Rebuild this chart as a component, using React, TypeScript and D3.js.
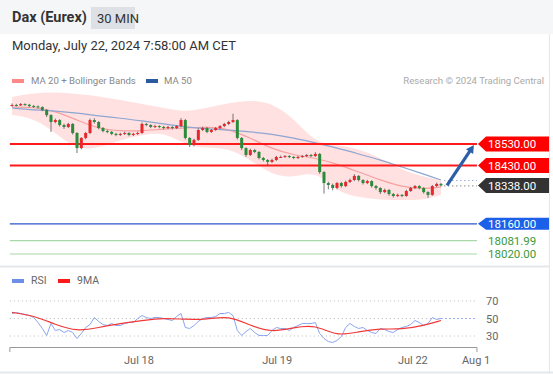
import React from 'react';
import * as d3 from 'd3';

const W = 553;
const H = 375;

// 30 min candles, Jul 17 -> Jul 22 morning
const closes = [
  18711, 18709, 18715, 18712, 18706, 18704, 18701, 18688, 18664, 18632,
  18641, 18618, 18609, 18623, 18581, 18511, 18558, 18581, 18641, 18632,
  18604, 18590, 18586, 18577, 18572, 18577, 18581, 18572, 18577, 18581,
  18623, 18618, 18609, 18613, 18609, 18604, 18609, 18604, 18613, 18641,
  18558, 18525, 18549, 18595, 18604, 18586, 18595, 18604, 18613, 18623,
  18632, 18641, 18558, 18511, 18479, 18502, 18493, 18465, 18456, 18447,
  18456, 18470, 18470, 18474, 18470, 18465, 18470, 18474, 18479, 18474,
  18484, 18400, 18349, 18340, 18326, 18349, 18335, 18354, 18363, 18382,
  18363, 18349, 18358, 18335, 18326, 18307, 18317, 18298, 18289, 18294,
  18289, 18312, 18326, 18335, 18326, 18307, 18294, 18335, 18345, 18338,
];
const opens = [18708, ...closes.slice(0, -1)];
const highs = [
  18718, 18716, 18720, 18719, 18716, 18711, 18709, 18705, 18692, 18668,
  18648, 18645, 18624, 18628, 18627, 18585, 18562, 18586, 18648, 18650,
  18636, 18609, 18596, 18591, 18582, 18582, 18587, 18585, 18582, 18587,
  18630, 18628, 18622, 18619, 18617, 18614, 18614, 18613, 18618, 18650,
  18646, 18562, 18555, 18602, 18610, 18609, 18600, 18609, 18618, 18628,
  18638, 18670, 18645, 18562, 18515, 18508, 18507, 18497, 18470, 18460,
  18462, 18475, 18476, 18479, 18478, 18474, 18475, 18479, 18484, 18484,
  18492, 18488, 18404, 18355, 18346, 18354, 18354, 18360, 18370, 18390,
  18386, 18367, 18364, 18362, 18340, 18330, 18323, 18321, 18303, 18300,
  18298, 18318, 18331, 18340, 18339, 18330, 18311, 18340, 18351, 18350,
];
const lows = [
  18703, 18704, 18706, 18707, 18700, 18698, 18695, 18682, 18655, 18586,
  18626, 18611, 18600, 18604, 18574, 18488, 18505, 18552, 18576, 18625,
  18598, 18584, 18580, 18571, 18566, 18567, 18572, 18566, 18567, 18572,
  18577, 18612, 18603, 18604, 18603, 18598, 18599, 18598, 18599, 18608,
  18551, 18516, 18519, 18544, 18590, 18580, 18581, 18590, 18599, 18608,
  18618, 18627, 18551, 18502, 18470, 18474, 18487, 18459, 18449, 18428,
  18442, 18451, 18465, 18466, 18465, 18460, 18460, 18466, 18469, 18469,
  18470, 18392, 18300, 18320, 18315, 18320, 18328, 18330, 18349, 18358,
  18356, 18342, 18344, 18328, 18318, 18298, 18302, 18290, 18282, 18284,
  18283, 18285, 18308, 18321, 18320, 18300, 18280, 18290, 18330, 18333,
];

// indicator readings, every 5th bar
const maIdx = [0, 5, 10, 15, 20, 25, 30, 35, 40, 45, 50, 55, 60, 65, 70, 75, 80, 85, 90, 95, 99];
const ma50 = [18697, 18688, 18683, 18674, 18660, 18650, 18637, 18623, 18609, 18600, 18595, 18586, 18576, 18558, 18535, 18511, 18484, 18456, 18423, 18391, 18363];
const ma20 = [18701, 18701, 18683, 18641, 18600, 18590, 18590, 18600, 18604, 18609, 18600, 18558, 18507, 18479, 18465, 18437, 18400, 18363, 18331, 18321, 18331];
const bbUpper = [18748, 18766, 18771, 18762, 18752, 18734, 18715, 18697, 18678, 18697, 18720, 18734, 18720, 18650, 18535, 18525, 18507, 18465, 18409, 18377, 18363];
const bbLower = [18664, 18650, 18581, 18502, 18511, 18549, 18572, 18586, 18525, 18511, 18511, 18456, 18386, 18372, 18409, 18307, 18284, 18270, 18270, 18270, 18294];

const rsi = [
  55.7, 56.9, 55.7, 54.6, 53.4, 51.1, 45.4, 38.6, 30.6, 44.3,
  36.3, 37.4, 34, 36.3, 34, 27.1, 32.9, 39.7, 43.1, 51.1,
  46.6, 43.1, 42, 44.3, 42, 42, 44.3, 45.4, 45.4, 50,
  53.4, 51.1, 50, 51.1, 51.1, 50, 48.9, 47.7, 52.3, 55.7,
  39.7, 38.6, 42, 46.6, 50, 51.1, 51.1, 52.3, 55.7, 55.7,
  56.9, 53.4, 36.3, 30.6, 35.1, 38.6, 34, 30.6, 30.6, 30.6,
  36.3, 39.7, 38.6, 38.6, 36.3, 39.7, 42, 44.3, 44.3, 44.3,
  45.4, 32.9, 27.1, 23.7, 22.6, 24.9, 29.4, 39.7, 44.3, 40.9,
  38.6, 39.7, 36.3, 34, 32.9, 38.6, 37.4, 35.1, 34, 37.4,
  39.7, 40.9, 43.1, 47.7, 45.4, 42, 44.3, 51.1, 48.9, 50,
];
const rsiMa = [56.9, 53.4, 43.1, 35.1, 39.7, 44.3, 47.7, 50.6, 48.9, 48.9, 53.4, 42, 34, 39.7, 43.1, 29.4, 35.1, 38.6, 37.4, 42, 47.7];
const rsiTicks = [70, 50, 30];

const xTickLabels = ['Jul 18', 'Jul 19', 'Jul 22', 'Aug 1'];
// bar positions of the date ticks
const xTickIdx = [29.3, 61.2, 92.5, 107.1];

const lastPrice = 18338;
const resistances = [18530, 18430];
const support = 18160;
const greenLevels = [18081.99, 18020];
const target = 18530;

const FONT = 'Roboto, Arial, sans-serif';

export default function App() {
  const x = d3.scaleLinear().domain([0, 99]).range([12, 441]);
  const xStart = -0.5;
  const xEnd = 107.3;
  const y = d3.scaleLinear().domain([18020, 18530]).range([254, 144]);
  const yR = d3.scaleLinear().domain([30, 70]).range([336, 301]);

  const band = d3
    .area<number>()
    .x((_, k) => x(maIdx[k]))
    .y0((_, k) => y(bbLower[k]))
    .y1((_, k) => y(bbUpper[k]))
    .curve(d3.curveBasis);
  const maLine = (vals: number[]) =>
    d3
      .line<number>()
      .x((_, k) => x(maIdx[k]))
      .y((v) => y(v))
      .curve(d3.curveBasis)(vals) as string;

  const rsiLine = d3
    .line<number>()
    .x((_, k) => x(k))
    .y((v) => yR(v))(rsi) as string;
  const rsiMaLine = d3
    .line<number>()
    .x((_, k) => x(maIdx[k]))
    .y((v) => yR(v))
    .curve(d3.curveBasis)(rsiMa) as string;

  const tag = (v: number, fill: string, h: number) => {
    const cy = y(v);
    const x0 = 478;
    const pts = [
      [x0, cy],
      [x0 + 8, cy - h / 2],
      [549, cy - h / 2],
      [549, cy + h / 2],
      [x0 + 8, cy + h / 2],
    ];
    return (
      <g key={'tag' + v}>
        <polygon points={pts.map((p) => p.join(',')).join(' ')} fill={fill} />
        <text x={488} y={cy + 4.2} fill="#fff" fontSize={11.5} fontFamily={FONT}>
          {v.toFixed(2)}
        </text>
      </g>
    );
  };

  const ax0 = x(99) + 6;
  const ay0 = y(lastPrice);
  const ax1 = x(106.6);
  const ay1 = y(target) + 1;
  const ang = Math.atan2(ay1 - ay0, ax1 - ax0);
  const head = 9;
  const headPts = [
    [ax1, ay1],
    [ax1 - head * Math.cos(ang - 0.5), ay1 - head * Math.sin(ang - 0.5)],
    [ax1 - head * Math.cos(ang + 0.5), ay1 - head * Math.sin(ang + 0.5)],
  ];

  return (
    <svg
      width={W}
      height={H}
      style={{ position: 'absolute', left: 0, top: 0, background: '#fff' }}
    >
      {/* header */}
      <rect x={0} y={0} width={W} height={34} fill="#f5f6f7" />
      <text x={12} y={22} fontSize={14.5} fontWeight="bold" fill="#333" fontFamily={FONT}>
        Dax (Eurex)
      </text>
      <rect x={91} y={7} width={44} height={22} fill="#dde1e6" />
      <text x={97} y={22.5} fontSize={13} fill="#333" fontFamily={FONT}>
        30 MIN
      </text>
      <text x={12} y={50} fontSize={13} fill="#333" fontFamily={FONT}>
        Monday, July 22, 2024 7:58:00 AM CET
      </text>

      {/* panel borders */}
      <line x1={549.5} y1={34} x2={549.5} y2={372} stroke="#e3e8ec" />
      <line x1={0} y1={266.5} x2={549} y2={266.5} stroke="#e3e8ec" strokeWidth={2} />
      <line x1={0} y1={372.5} x2={W} y2={372.5} stroke="#e3e8ec" strokeWidth={2} />

      {/* legend */}
      <rect x={12} y={79} width={12} height={4} fill="#f88" />
      <text x={31} y={84} fontSize={9.6} fill="#888" fontFamily={FONT}>
        MA 20 + Bollinger Bands
      </text>
      <rect x={146} y={79} width={12} height={4} fill="#2c5aa0" />
      <text x={164} y={84} fontSize={9.6} fill="#888" fontFamily={FONT}>
        MA 50
      </text>
      <text x={544} y={84} textAnchor="end" fontSize={9.6} fill="#aaa" fontFamily={FONT}>
        Research © 2024 Trading Central
      </text>

      {/* bollinger band and moving averages */}
      <path d={band(bbUpper) as string} fill="#ffdcdc" opacity={0.85} />
      <path d={maLine(ma20)} fill="none" stroke="#f7a0a0" strokeWidth={1.2} />
      <path d={maLine(ma50)} fill="none" stroke="#8ea6d2" strokeWidth={1.2} />

      {/* levels */}
      {resistances.map((v) => (
        <line key={v} x1={x(xStart)} x2={x(xEnd)} y1={y(v)} y2={y(v)} stroke="#ff1a1a" strokeWidth={2} />
      ))}
      <line x1={x(xStart)} x2={x(xEnd)} y1={y(support)} y2={y(support)} stroke="#2b55c8" strokeWidth={1.2} />
      {greenLevels.map((v) => (
        <line key={v} x1={x(xStart)} x2={x(xEnd)} y1={y(v)} y2={y(v)} stroke="#a8d8a8" strokeWidth={1.2} />
      ))}
      <line x1={x(99) + 3} x2={x(xEnd)} y1={y(ma50[ma50.length - 1]) + 0.5} y2={y(ma50[ma50.length - 1]) + 0.5} stroke="#9aaed0" strokeDasharray="1.5,2.5" />
      <line x1={x(99) + 3} x2={x(xEnd)} y1={y(lastPrice) + 0.5} y2={y(lastPrice) + 0.5} stroke="#8a8a8a" strokeDasharray="1.5,2.5" />

      {/* candles */}
      {closes.map((c, i) => {
        const o = opens[i];
        const up = c >= o;
        const col = up ? '#e8262b' : '#2b8b3b';
        const top = y(Math.max(o, c));
        const bot = y(Math.min(o, c));
        const cx = x(i);
        return (
          <g key={i}>
            <line x1={cx} x2={cx} y1={y(highs[i])} y2={y(lows[i])} stroke="#555" strokeWidth={0.8} />
            <rect x={cx - 1.5} y={top} width={3} height={Math.max(1, bot - top)} fill={col} />
          </g>
        );
      })}

      {/* arrow to target */}
      <line x1={ax0} y1={ay0} x2={ax1 - 5 * Math.cos(ang)} y2={ay1 - 5 * Math.sin(ang)} stroke="#2d5fa8" strokeWidth={3.2} />
      <polygon points={headPts.map((p) => p.join(',')).join(' ')} fill="#2d5fa8" />

      {/* price tags */}
      {resistances.map((v) => tag(v, '#ff0000', 15))}
      {tag(lastPrice, '#333333', 15)}
      {tag(support, '#1c5fe8', 12)}
      {greenLevels.map((v) => (
        <text key={'g' + v} x={488} y={y(v) + 4.2} fill="#3c9a3c" fontSize={11.5} fontFamily={FONT}>
          {v.toFixed(2)}
        </text>
      ))}

      {/* RSI panel */}
      <rect x={12} y={279} width={12} height={4} fill="#6d8fe8" />
      <text x={31} y={284} fontSize={10.5} fill="#666" fontFamily={FONT}>
        RSI
      </text>
      <rect x={58} y={279} width={12} height={4} fill="#ff1a1a" />
      <text x={77} y={284} fontSize={10.5} fill="#666" fontFamily={FONT}>
        9MA
      </text>
      {rsiTicks.map((t) => (
        <g key={t}>
          <line x1={x(xStart)} x2={x(xEnd)} y1={yR(t)} y2={yR(t)} stroke="#bbb" strokeDasharray="1,3" />
          <text x={486} y={yR(t) + 4} fontSize={11} fill="#666" fontFamily={FONT}>
            {t}
          </text>
        </g>
      ))}
      <line x1={x(99)} x2={x(xEnd)} y1={yR(rsi[99])} y2={yR(rsi[99])} stroke="#9db3ef" strokeDasharray="2,2" />
      <path d={rsiLine} fill="none" stroke="#8aa6f0" strokeWidth={1} />
      <path d={rsiMaLine} fill="none" stroke="#f03a3a" strokeWidth={1.2} />

      {/* x axis */}
      <path
        d={`M${x(xStart)},352V347.5H${x(xEnd)}V352`}
        fill="none"
        stroke="#999"
        strokeWidth={1}
      />
      {xTickLabels.map((l, k) => (
        <text key={l} x={x(xTickIdx[k])} y={364} textAnchor="middle" fontSize={11} fill="#666" fontFamily={FONT}>
          {l}
        </text>
      ))}
    </svg>
  );
}
